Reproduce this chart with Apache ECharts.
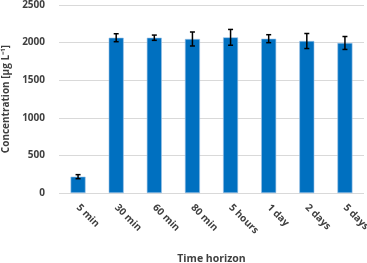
<!DOCTYPE html>
<html><head><meta charset="utf-8">
<script src="https://cdn.jsdelivr.net/npm/echarts@6/dist/echarts.min.js"></script>
<style>html,body{margin:0;padding:0;background:#fff}#c{width:367px;height:263px}</style>
</head><body><div id="c"></div>
<script>
const categories = ['5 min','30 min','60 min','80 min','5 hours','1 day','2 days','5 days'];
const values = [217, 2065, 2065, 2048, 2070, 2052, 2021, 1995];
const errors = [27, 53, 35, 93, 105, 53, 100, 86];
const yTicks = [0, 500, 1000, 1500, 2000, 2500];

const font = '"Open Sans", sans-serif';
const txt = '#404040';
const chart = echarts.init(document.getElementById('c'), null, {renderer:'canvas'});
chart.setOption({
  animation: false,
  grid: {left: 59, right: 3, top: 5, bottom: 70, containLabel: false, outerBoundsMode: 'none'},
  xAxis: {
    type: 'category', data: categories,
    axisLine: {show: false}, axisTick: {show: false},
    axisLabel: {rotate: -45, color: txt, fontFamily: font, fontWeight: 'bold', fontSize: 10, margin: 13, interval: 0},
    name: 'Time horizon', nameLocation: 'middle', nameGap: 61,
    nameTextStyle: {color: txt, fontFamily: font, fontWeight: 'bold', fontSize: 10.5}
  },
  yAxis: {
    type: 'value', min: yTicks[0], max: yTicks[yTicks.length-1], interval: 500,
    axisLine: {show: false}, axisTick: {show: false},
    splitLine: {lineStyle: {color: '#d9d9d9', width: 1}},
    axisLabel: {color: txt, fontFamily: font, fontWeight: 'bold', fontSize: 10, margin: 14,
      formatter: v => String(v)},
    name: 'Concentration [μg L⁻¹]', nameLocation: 'middle', nameGap: 45,
    nameTextStyle: {color: txt, fontFamily: font, fontWeight: 'bold', fontSize: 10}
  },
  series: [
    {type: 'bar', data: values, barWidth: 15,
     itemStyle: {color: '#0070c0', borderColor: '#9dc3e6', borderWidth: 0.6}},
    {type: 'custom', data: values.map((v,i)=>[i, v-errors[i], v+errors[i]]),
     renderItem: function(params, api){
       const lo = api.coord([api.value(0), api.value(1)]);
       const hi = api.coord([api.value(0), api.value(2)]);
       const x = lo[0], w = 2.5;
       const st = {stroke: '#000', lineWidth: 1.5};
       return {type: 'group', children: [
         {type: 'line', shape: {x1: x, y1: lo[1], x2: x, y2: hi[1]}, style: st},
         {type: 'line', shape: {x1: x-w, y1: lo[1], x2: x+w, y2: lo[1]}, style: st},
         {type: 'line', shape: {x1: x-w, y1: hi[1], x2: x+w, y2: hi[1]}, style: st}
       ]};
     }, z: 10}
  ]
});
</script></body></html>
